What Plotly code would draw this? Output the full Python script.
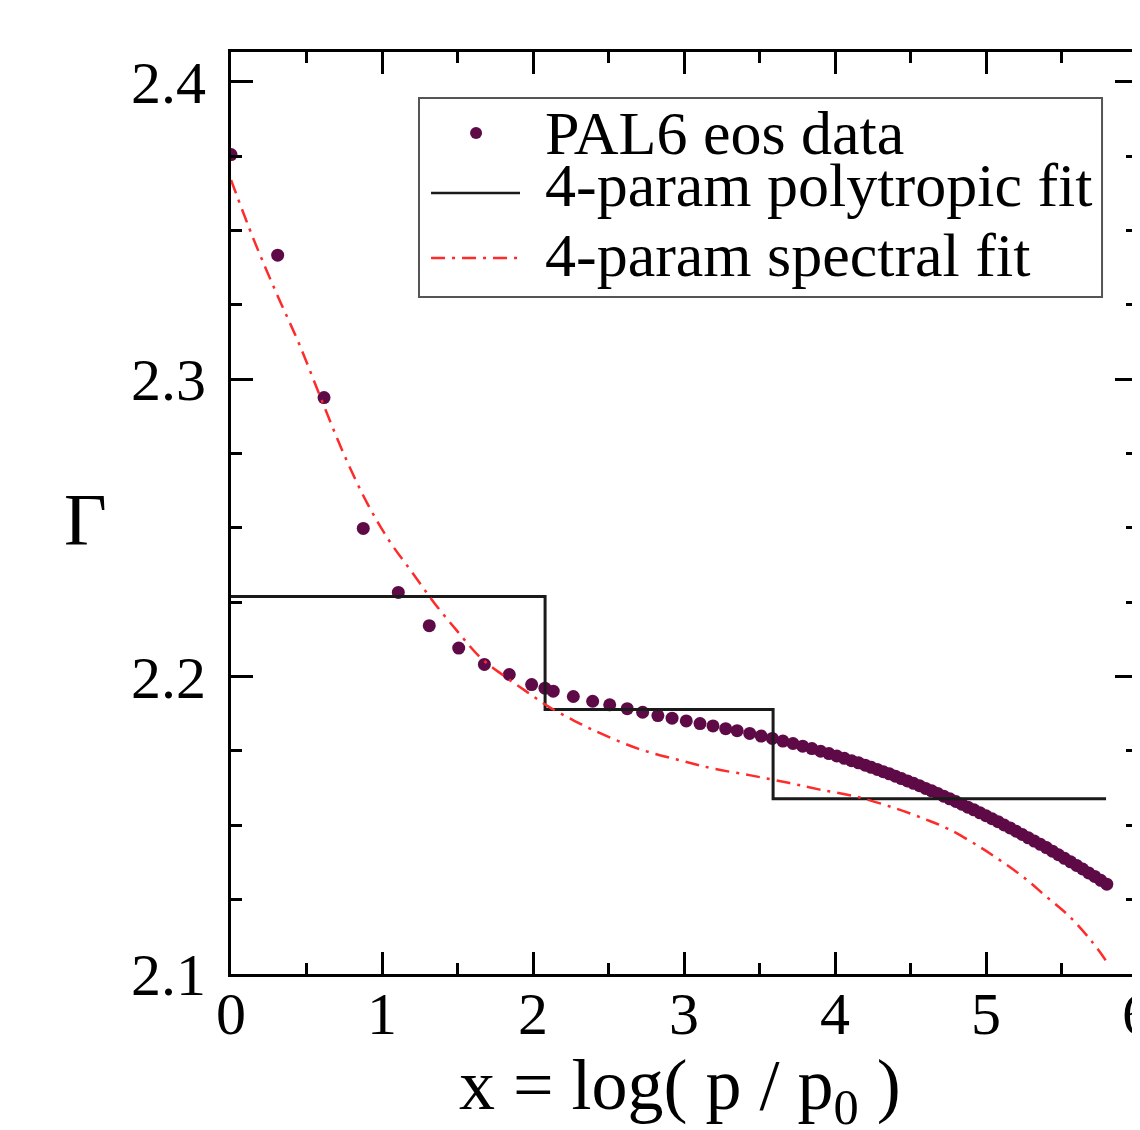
import plotly.graph_objects as go

# PAL6 eos data (x = log(p/p0), Gamma)
eos_x = [0.000, 0.309, 0.616, 0.876, 1.108, 1.313, 1.508, 1.678, 1.843, 1.991, 2.079, 2.134,
         2.267, 2.395, 2.508, 2.624, 2.726, 2.827, 2.921, 3.015, 3.106, 3.192, 3.276, 3.352,
         3.435, 3.511, 3.585, 3.655, 3.722, 3.786, 3.847, 3.905, 3.960, 4.012, 4.062, 4.110,
         4.156, 4.200, 4.24, 4.28, 4.32, 4.36, 4.40, 4.44, 4.48, 4.52, 4.56, 4.60, 4.64, 4.68,
         4.72, 4.76, 4.80, 4.84, 4.88, 4.92, 4.96, 5.00, 5.04, 5.08, 5.12, 5.16, 5.20, 5.24,
         5.28, 5.32, 5.36, 5.40, 5.44, 5.48, 5.52, 5.56, 5.60, 5.64, 5.68, 5.72, 5.76, 5.80]
eos_g = [2.3755, 2.3417, 2.2938, 2.2498, 2.2283, 2.2171, 2.2096, 2.2041, 2.2007, 2.1973, 2.1961, 2.1951,
         2.1933, 2.1917, 2.1905, 2.1892, 2.1880, 2.1869, 2.1860, 2.1851, 2.1842, 2.1834, 2.1825, 2.1818,
         2.1809, 2.1800, 2.1792, 2.1783, 2.1775, 2.1766, 2.1758, 2.1749, 2.1741, 2.1733, 2.1725, 2.1717,
         2.1710, 2.1702, 2.1695, 2.1688, 2.1680, 2.1673, 2.1665, 2.1657, 2.1649, 2.1641, 2.1633, 2.1624,
         2.1616, 2.1607, 2.1598, 2.1589, 2.1580, 2.1571, 2.1561, 2.1552, 2.1542, 2.1532, 2.1522, 2.1512,
         2.1501, 2.1491, 2.1480, 2.1469, 2.1458, 2.1447, 2.1436, 2.1425, 2.1413, 2.1401, 2.1389, 2.1377,
         2.1365, 2.1353, 2.1340, 2.1328, 2.1315, 2.1302]

# 4-parameter polytropic fit: breakpoints and piecewise-constant Gamma
poly_x = [0.0, 2.08, 3.59, 5.795]
poly_g = [2.2269, 2.1889, 2.1589, 2.1589]

# 4-parameter spectral fit
spec_x = [0.00, 0.15, 0.30, 0.45, 0.60, 0.75, 0.90, 1.05, 1.20, 1.35, 1.50, 1.65, 1.80, 1.95,
          2.10, 2.25, 2.40, 2.70, 3.00, 3.20, 3.45, 3.70, 3.90, 4.15, 4.40, 4.60, 4.75, 4.95,
          5.10, 5.25, 5.40, 5.55, 5.70, 5.80]
spec_g = [2.367, 2.347, 2.329, 2.312, 2.293, 2.2745, 2.2585, 2.2455, 2.2350, 2.2245, 2.2152, 2.2065,
          2.2005, 2.1952, 2.1900, 2.1858, 2.1820, 2.1757, 2.1715, 2.1690, 2.1667, 2.1642, 2.1620,
          2.1595, 2.1557, 2.1520, 2.1488, 2.1430, 2.1380, 2.1325, 2.1260, 2.1195, 2.1110, 2.1041]

names = ["PAL6 eos data", "4-param polytropic fit", "4-param spectral fit"]

FONT = "Liberation Serif"
DOT = "#5e0a47"
RED = "#ff2a2a"
DASHDOT = "14px,7px,3px,7px"

fig = go.Figure()
fig.add_trace(go.Scatter(x=eos_x, y=eos_g, mode="markers", name=names[0],
                         marker=dict(color=DOT, size=13, line=dict(width=0))))
fig.add_trace(go.Scatter(x=poly_x, y=poly_g, mode="lines", name=names[1], line_shape="hv",
                         line=dict(color="#1a1a1a", width=3)))
fig.add_trace(go.Scatter(x=spec_x, y=spec_g, mode="lines", name=names[2], line_shape="spline",
                         line=dict(color=RED, width=2.5, dash=DASHDOT)))

axis_common = dict(showgrid=False, zeroline=False, showline=True, linecolor="black", linewidth=3,
                   mirror="ticks", ticks="inside", ticklen=22, tickwidth=2.5, tickcolor="black",
                   automargin=False, ticklabeloverflow="allow",
                   tickfont=dict(family=FONT, size=60, color="black"))

# legend drawn as a framed box (paper coordinates)
LX0, LX1, LY0, LY1 = 0.2075, 0.9614, 0.7343, 0.9501
SYM_X0, SYM_X1, MARK_X, TEXT_X = 0.2208, 0.3190, 0.2705, 0.3444
ROW_SYM = [0.9121, 0.8471, 0.7766]
ROW_TXT = [0.9121, 0.8557, 0.7798]

shapes = [
    dict(type="rect", xref="paper", yref="paper", x0=LX0, x1=LX1, y0=LY0, y1=LY1,
         line=dict(color="#555555", width=2), fillcolor="white", layer="above"),
    dict(type="circle", xref="paper", yref="paper", xsizemode="pixel", ysizemode="pixel",
         xanchor=MARK_X, yanchor=ROW_SYM[0], x0=-6, x1=6, y0=-6, y1=6,
         fillcolor=DOT, line=dict(width=0), layer="above"),
    dict(type="line", xref="paper", yref="paper", x0=SYM_X0, x1=SYM_X1, y0=ROW_SYM[1], y1=ROW_SYM[1],
         line=dict(color="#1a1a1a", width=2.5), layer="above"),
    dict(type="line", xref="paper", yref="paper", x0=SYM_X0, x1=SYM_X1, y0=ROW_SYM[2], y1=ROW_SYM[2],
         line=dict(color=RED, width=2.5, dash=DASHDOT), layer="above"),
]

annotations = [dict(text=n, xref="paper", yref="paper", x=TEXT_X, y=yy, xanchor="left",
                    yanchor="middle", showarrow=False,
                    font=dict(family=FONT, size=62, color="black"))
               for n, yy in zip(names, ROW_TXT)]
annotations.append(dict(text="Γ", xref="paper", yref="paper", x=-0.1611, y=0.4924,
                        xanchor="center", yanchor="middle",
                        showarrow=False, font=dict(family=FONT, size=74, color="black")))
annotations.append(dict(text="x = log( p / p<sub>0</sub> )", xref="paper", yref="paper",
                        x=0.4956, y=-0.1258, xanchor="center", yanchor="middle", showarrow=False,
                        font=dict(family=FONT, size=72, color="black")))

# page body has an 8px margin: the figure is sized and offset to compensate
fig.update_layout(
    width=1132, height=1122,
    margin=dict(l=223, r=3, t=44, b=156),
    paper_bgcolor="white", plot_bgcolor="white",
    showlegend=False,
    xaxis=dict(range=[0, 6], dtick=1, tick0=0, ticklabelstandoff=-15,
               minor=dict(ticks="inside", ticklen=11, tickwidth=2.5, dtick=0.5, tickcolor="black"),
               **axis_common),
    yaxis=dict(range=[2.1, 2.41], dtick=0.1, tick0=2.1, tickformat=".1f", ticklabelstandoff=10,
               minor=dict(ticks="inside", ticklen=11, tickwidth=2.5, dtick=0.025, tickcolor="black"),
               **axis_common),
    shapes=shapes,
    annotations=annotations,
)

fig.write_html("out.html")
